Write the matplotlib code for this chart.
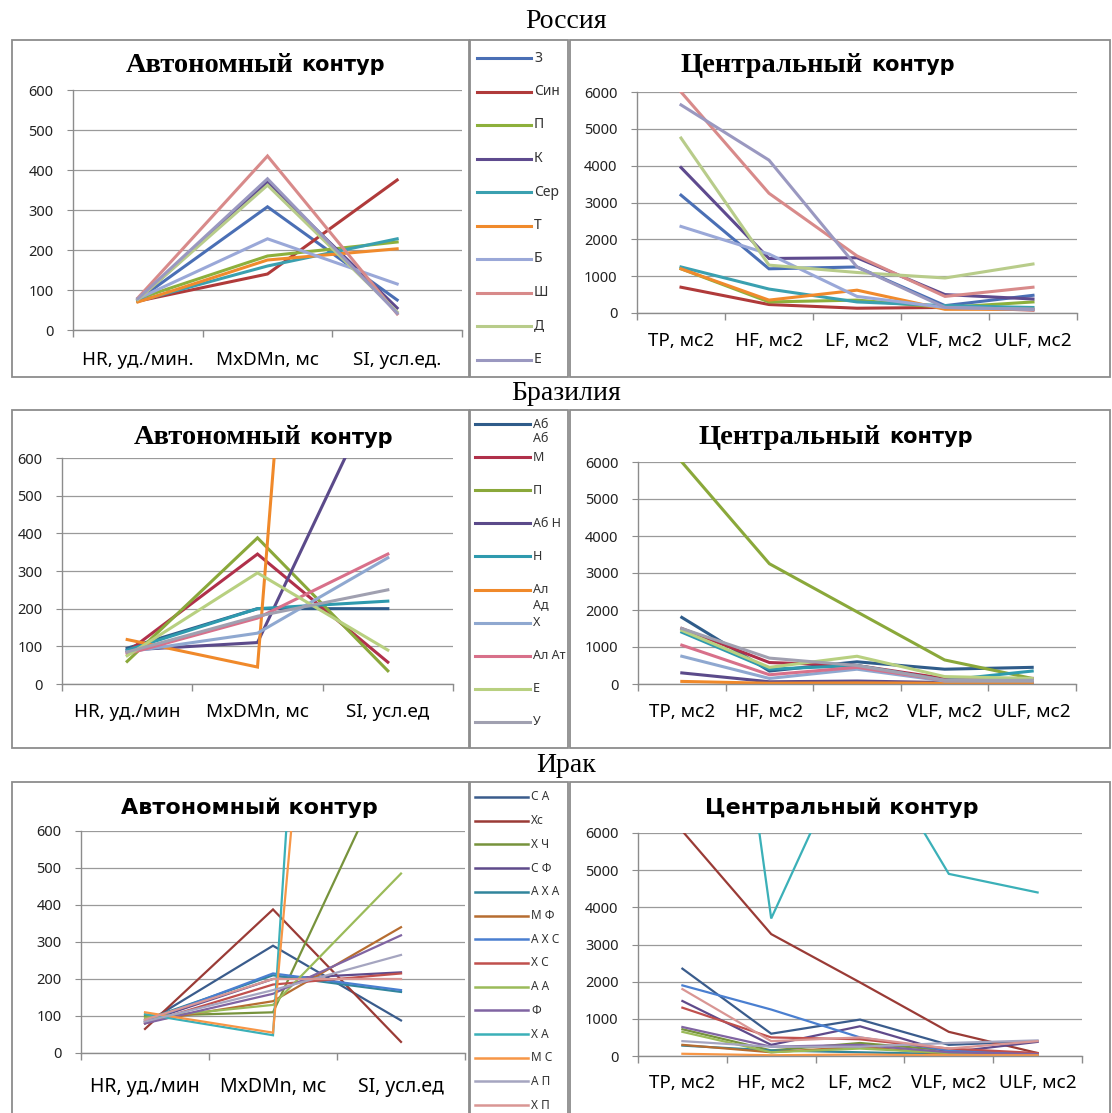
import numpy as np
import matplotlib
matplotlib.use("Agg")
import matplotlib.pyplot as plt
from matplotlib.patches import Rectangle
from matplotlib.lines import Line2D

plt.rcParams['font.family'] = ['Noto Sans', 'DejaVu Sans']

# ---------------- data ----------------
auto_cats_ru = ['HR, уд./мин.', 'MxDMn, мс', 'SI, усл.ед.']
auto_cats = ['HR, уд./мин', 'MxDMn, мс', 'SI, усл.ед']
central_cats = ['TP, мс2', 'HF, мс2', 'LF, мс2', 'VLF, мс2', 'ULF, мс2']

# Россия
ru_names = ['З', 'Син', 'П', 'К', 'Сер', 'Т', 'Б', 'Ш', 'Д', 'Е']
ru_auto = [[75, 308, 75], [72, 140, 375], [78, 185, 220], [75, 370, 55], [72, 160, 228],
           [70, 175, 203], [78, 228, 115], [80, 435, 40], [76, 362, 45], [78, 378, 42]]
ru_central = [[3200, 1200, 1250, 200, 480], [700, 230, 130, 150, 80], [1200, 300, 350, 150, 300],
              [3950, 1480, 1500, 500, 380], [1250, 650, 300, 200, 150], [1200, 350, 620, 100, 100],
              [2350, 1600, 450, 150, 100], [6000, 3250, 1550, 450, 700], [4750, 1300, 1100, 950, 1330],
              [5650, 4150, 1250, 150, 100]]
ru_colors = ['#4A6FB5', '#B03A3A', '#8DB03C', '#5E4A8E', '#3AA0B0', '#F08A2C',
             '#9AA8D8', '#D88A8A', '#B8CC8A', '#9A98C0']

# Бразилия
br_names = ['Аб\nАб', 'М', 'П', 'Аб Н', 'Н', 'Ал\nАд', 'Х', 'Ал Ат', 'Е', 'У']
br_auto = [[95, 200, 200], [85, 345, 58], [60, 388, 35], [90, 110, 840], [90, 200, 220],
           [118, 45, 4400], [85, 135, 335], [80, 175, 345], [75, 295, 90], [85, 180, 250]]
br_central = [[1800, 350, 600, 400, 450], [1500, 580, 500, 150, 150], [6000, 3250, 1950, 650, 150],
              [300, 60, 80, 40, 40], [1400, 400, 500, 100, 350], [70, 20, 30, 20, 20],
              [750, 150, 400, 80, 80], [1050, 250, 450, 100, 150], [1450, 450, 750, 200, 150],
              [1500, 700, 500, 100, 100]]
br_colors = ['#2F5C8A', '#B0304A', '#8AA83A', '#5B4A8A', '#2E9AAE', '#F0892A',
             '#8FA8D0', '#D8708A', '#B8D080', '#A0A0B0']

# Ирак
iq_names = ['С А', 'Хс', 'Х Ч', 'С Ф', 'А Х А', 'М Ф', 'А Х С', 'Х С', 'А А', 'Ф',
            'Х А', 'М С', 'А П', 'Х П']
iq_auto = [[80, 290, 88], [65, 388, 30], [100, 110, 850], [85, 200, 218], [90, 210, 165],
           [85, 140, 340], [85, 215, 170], [80, 185, 215], [95, 130, 485], [80, 160, 318],
           [105, 48, 5400], [110, 55, 3900], [85, 170, 265], [90, 200, 200]]
iq_central = [[2350, 600, 980, 300, 400], [6050, 3280, 1980, 650, 80], [720, 150, 350, 150, 50],
              [1480, 300, 800, 100, 380], [280, 150, 100, 50, 50], [300, 100, 250, 50, 20],
              [1900, 1250, 500, 150, 50], [1300, 500, 450, 200, 80], [650, 100, 200, 80, 30],
              [780, 250, 300, 100, 50], [21000, 3700, 8900, 4900, 4400], [60, 20, 40, 20, 20],
              [400, 250, 250, 350, 420], [1800, 400, 500, 200, 400]]
iq_colors = ['#3A5C8C', '#9A3B36', '#77933C', '#5F4A8B', '#31859C', '#B66D31',
             '#4A7FD0', '#C0504D', '#9BBB59', '#8064A2', '#3BB0B8', '#F79646',
             '#A5A5C0', '#D99694']

# ---------------- layout helpers ----------------
W, H = 1112, 1113
fig = plt.figure(figsize=(W / 100, H / 100), dpi=100)
GRAY = '#8c8c8c'
SANS_BOLD = ['DejaVu Sans']
SERIF = ['Liberation Serif', 'DejaVu Serif']


def fx(x):
    return x / W


def fy(y):
    return 1 - y / H


def add_ax(l, t, r, b):
    return fig.add_axes([l / W, 1 - b / H, (r - l) / W, (b - t) / H])


def frame(l, t, r, b):
    fig.add_artist(Rectangle((fx(l), fy(b)), (r - l) / W, (b - t) / H, transform=fig.transFigure,
                             fill=False, ec=GRAY, lw=1.3, clip_on=False))


def style_axes(ax, cats, ymax, ystep, label_pad, xsize=13.5):
    n = len(cats)
    ax.set_xlim(-0.5, n - 0.5)
    ax.set_ylim(0, ymax)
    ax.set_yticks(np.arange(0, ymax + 1, ystep))
    ax.set_xticks(np.arange(-0.5, n, 1.0))
    ax.set_xticklabels([])
    ax.set_xticks(np.arange(n), minor=True)
    ax.set_xticklabels(cats, minor=True, fontsize=xsize)
    ax.tick_params(axis='x', which='major', length=5, direction='out', color=GRAY, width=1)
    ax.tick_params(axis='x', which='minor', length=0, pad=label_pad)
    ax.tick_params(axis='y', length=4, direction='out', color=GRAY, pad=10, labelsize=10.5,
                   labelcolor='#222222')
    ax.yaxis.grid(True, color='#9a9a9a', lw=0.9)
    ax.set_axisbelow(True)
    for s in ['top', 'right']:
        ax.spines[s].set_visible(False)
    for s in ['left', 'bottom']:
        ax.spines[s].set_color(GRAY)
        ax.spines[s].set_linewidth(1)
    ax.patch.set_alpha(0)


def draw_series(ax, data, colors, lw):
    for vals, c in zip(data, colors):
        ax.plot(np.arange(len(vals)), vals, color=c, lw=lw, solid_joinstyle='miter')


def legend(names, colors, y0, dy, x0, x1, lw, fs):
    for i, (nm, c) in enumerate(zip(names, colors)):
        y = y0 + i * dy
        fig.add_artist(Line2D([fx(x0), fx(x1)], [fy(y), fy(y)], transform=fig.transFigure,
                              color=c, lw=lw))
        for k, part in enumerate(nm.split('\n')):
            fig.text(fx(x1 + 3), fy(y + k * 15), part, fontsize=fs, va='center', ha='left',
                     color='#333333')


def split_title(xsplit, y, w1, w2):
    fig.text(fx(xsplit - 4), fy(y), w1, ha='right', va='center', fontsize=20.5,
             fontweight='bold', family=SERIF)
    fig.text(fx(xsplit + 4), fy(y), w2, ha='left', va='center', fontsize=15,
             fontweight='bold', family=SANS_BOLD)


def country(y, name):
    fig.text(fx(566), fy(y), name, ha='center', va='center', fontsize=20, family=SERIF)


# ---------------- Россия ----------------
country(22, 'Россия')
frame(12, 40, 469, 377)
frame(470, 40, 568, 377)
frame(570, 40, 1110, 377)
ax = add_ax(73, 90, 462, 330)
style_axes(ax, auto_cats_ru, 600, 100, 15)
draw_series(ax, ru_auto, ru_colors, 2.2)
split_title(297, 65, 'Автономный', 'контур')
ax = add_ax(637, 92, 1077, 313)
style_axes(ax, central_cats, 6000, 1000, 14)
draw_series(ax, ru_central, ru_colors, 2.2)
split_title(867, 65, 'Центральный', 'контур')
legend(ru_names, ru_colors, 58, 33.5, 477, 531, 2.2, 10)

# ---------------- Бразилия ----------------
country(394, 'Бразилия')
frame(12, 410, 469, 748)
frame(470, 410, 568, 748)
frame(570, 410, 1110, 748)
ax = add_ax(62, 458, 453, 684)
style_axes(ax, auto_cats, 600, 100, 14)
draw_series(ax, br_auto, br_colors, 2.2)
split_title(305, 438, 'Автономный', 'контур')
ax = add_ax(638, 462, 1076, 684)
style_axes(ax, central_cats, 6000, 1000, 14)
draw_series(ax, br_central, br_colors, 2.2)
split_title(885, 437, 'Центральный', 'контур')
legend(br_names, br_colors, 424, 33.1, 475, 530, 2.2, 9)

# ---------------- Ирак ----------------
country(766, 'Ирак')
frame(12, 782, 469, 1125)
frame(470, 782, 568, 1125)
frame(570, 782, 1110, 1125)
ax = add_ax(81, 831, 465, 1053)
style_axes(ax, auto_cats, 600, 100, 17, xsize=14)
draw_series(ax, iq_auto, iq_colors, 1.6)
fig.text(fx(249), fy(808), 'Автономный контур', ha='center', va='center', fontsize=16,
         fontweight='bold', family=SANS_BOLD)
ax = add_ax(638, 833, 1082, 1056)
style_axes(ax, central_cats, 6000, 1000, 13)
draw_series(ax, iq_central, iq_colors, 1.6)
fig.text(fx(842), fy(808), 'Центральный контур', ha='center', va='center', fontsize=16,
         fontweight='bold', family=SANS_BOLD)
legend(iq_names, iq_colors, 797, 23.7, 475, 528, 1.8, 8.5)

fig.savefig('out.png', dpi=100)
